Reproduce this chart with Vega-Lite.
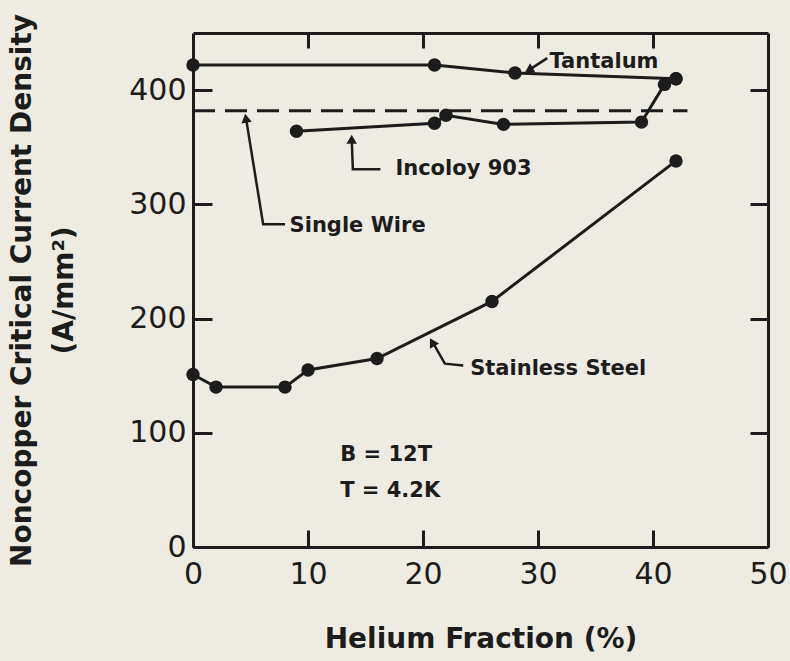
{
  "$schema": "https://vega.github.io/schema/vega-lite/v6.json",
  "width": 575,
  "height": 514,
  "autosize": {"type": "none"},
  "padding": {"left": 193, "top": 33, "right": 22, "bottom": 114},
  "background": "#eeece2",
  "config": {"view": {"stroke": null}, "font": "DejaVu Sans"},
  "datasets": {
    "series": [
      {"series": "Tantalum", "order": 1, "x": 0, "y": 422},
      {"series": "Tantalum", "order": 2, "x": 21, "y": 422},
      {"series": "Tantalum", "order": 3, "x": 28, "y": 415},
      {"series": "Tantalum", "order": 4, "x": 42, "y": 410},
      {"series": "Incoloy 903", "order": 1, "x": 9, "y": 364},
      {"series": "Incoloy 903", "order": 2, "x": 21, "y": 371},
      {"series": "Incoloy 903", "order": 3, "x": 22, "y": 378},
      {"series": "Incoloy 903", "order": 4, "x": 27, "y": 370},
      {"series": "Incoloy 903", "order": 5, "x": 39, "y": 372},
      {"series": "Incoloy 903", "order": 6, "x": 41, "y": 405},
      {"series": "Incoloy 903", "order": 7, "x": 42, "y": 410},
      {"series": "Stainless Steel", "order": 1, "x": 0, "y": 151},
      {"series": "Stainless Steel", "order": 2, "x": 2, "y": 140},
      {"series": "Stainless Steel", "order": 3, "x": 8, "y": 140},
      {"series": "Stainless Steel", "order": 4, "x": 10, "y": 155},
      {"series": "Stainless Steel", "order": 5, "x": 16, "y": 165},
      {"series": "Stainless Steel", "order": 6, "x": 26, "y": 215},
      {"series": "Stainless Steel", "order": 7, "x": 42, "y": 338}
    ],
    "singlewire": [
      {"series": "Single Wire", "x": 0, "y": 382},
      {"series": "Single Wire", "x": 43, "y": 382}
    ],
    "arrows": [
      {"id": "ta", "order": 1, "x": 30.8, "y": 428},
      {"id": "ta", "order": 2, "x": 29.2, "y": 417.5},
      {"id": "in", "order": 1, "x": 16.3, "y": 330.7},
      {"id": "in", "order": 2, "x": 13.9, "y": 330.7},
      {"id": "in", "order": 3, "x": 13.8, "y": 358},
      {"id": "sw", "order": 1, "x": 8.0, "y": 282.5},
      {"id": "sw", "order": 2, "x": 6.1, "y": 282.5},
      {"id": "sw", "order": 3, "x": 4.6, "y": 376},
      {"id": "ss", "order": 1, "x": 23.5, "y": 159},
      {"id": "ss", "order": 2, "x": 21.9, "y": 160.5},
      {"id": "ss", "order": 3, "x": 20.8, "y": 180}
    ],
    "heads": [
      {"id": "ta", "x": 29.2, "y": 417.5, "heading": 240},
      {"id": "in", "x": 13.8, "y": 357, "heading": 0},
      {"id": "sw", "x": 4.6, "y": 375.4, "heading": 351},
      {"id": "ss", "x": 20.8, "y": 179.4, "heading": 330}
    ],
    "labels": [
      {"label": "Tantalum", "x": 31.0, "y": 425},
      {"label": "Incoloy 903", "x": 17.6, "y": 330.7},
      {"label": "Single Wire", "x": 8.4, "y": 281},
      {"label": "Stainless Steel", "x": 24.1, "y": 155.5},
      {"label": "B = 12T", "x": 12.8, "y": 80.7},
      {"label": "T = 4.2K", "x": 12.8, "y": 49}
    ]
  },
  "resolve": {"axis": {"x": "independent", "y": "independent"}},
  "layer": [
    {
      "data": {"name": "series"},
      "mark": {"type": "line", "stroke": "#1c1c1c", "strokeWidth": 3},
      "encoding": {
        "x": {"field": "x", "type": "quantitative", "scale": {"domain": [0, 50], "nice": false, "zero": false},
          "axis": {"orient": "bottom", "values": [0, 10, 20, 30, 40, 50], "format": "d", "grid": false,
            "title": "Helium Fraction (%)", "titleFont": "DejaVu Sans", "titleFontSize": 28, "titleFontWeight": "bold", "titleColor": "#1c1c1c", "titlePadding": 36,
            "labelFont": "DejaVu Sans", "labelFontSize": 30, "labelColor": "#1c1c1c", "labelPadding": 29, "labelFlush": false, "labelOverlap": false,
            "tickSize": -17, "tickWidth": 3, "tickColor": "#1c1c1c", "domainColor": "#1c1c1c", "domainWidth": 3}},
        "y": {"field": "y", "type": "quantitative", "scale": {"domain": [0, 450], "nice": false, "zero": false},
          "axis": {"orient": "left", "values": [0, 100, 200, 300, 400], "format": "d", "grid": false,
            "title": ["Noncopper Critical Current Density", "(A/mm²)"], "titleFont": "DejaVu Sans", "titleFontSize": 28, "titleFontWeight": "bold", "titleColor": "#1c1c1c", "titleLineHeight": 42, "titlePadding": 50,
            "labelFont": "DejaVu Sans", "labelFontSize": 30, "labelColor": "#1c1c1c", "labelPadding": 26, "labelFlush": false, "labelOverlap": false,
            "tickSize": -19, "tickWidth": 3, "tickColor": "#1c1c1c", "domainColor": "#1c1c1c", "domainWidth": 3}},
        "detail": {"field": "series"},
        "order": {"field": "order", "type": "quantitative"}
      }
    },
    {
      "data": {"name": "series"},
      "mark": {"type": "point", "filled": true, "fill": "#1c1c1c", "opacity": 1, "size": 180, "strokeWidth": 0},
      "encoding": {
        "x": {"field": "x", "type": "quantitative", "scale": {"domain": [0, 50], "nice": false, "zero": false},
          "axis": {"orient": "top", "values": [10, 20, 30, 40], "labels": false, "title": null, "grid": false,
            "tickSize": -15, "tickWidth": 3, "tickColor": "#1c1c1c", "domainColor": "#1c1c1c", "domainWidth": 3}},
        "y": {"field": "y", "type": "quantitative", "scale": {"domain": [0, 450], "nice": false, "zero": false},
          "axis": {"orient": "right", "values": [100, 200, 300, 400], "labels": false, "title": null, "grid": false,
            "tickSize": -18, "tickWidth": 3, "tickColor": "#1c1c1c", "domainColor": "#1c1c1c", "domainWidth": 3}}
      }
    },
    {
      "data": {"name": "singlewire"},
      "mark": {"type": "line", "stroke": "#1c1c1c", "strokeWidth": 3, "strokeDash": [22, 10]},
      "encoding": {
        "x": {"field": "x", "type": "quantitative", "axis": null},
        "y": {"field": "y", "type": "quantitative", "axis": null}
      }
    },
    {
      "data": {"name": "arrows"},
      "mark": {"type": "line", "stroke": "#1c1c1c", "strokeWidth": 2.5},
      "encoding": {
        "x": {"field": "x", "type": "quantitative", "axis": null},
        "y": {"field": "y", "type": "quantitative", "axis": null},
        "detail": {"field": "id"},
        "order": {"field": "order", "type": "quantitative"}
      }
    },
    {
      "data": {"name": "heads"},
      "mark": {"type": "point", "shape": "triangle-up", "filled": true, "fill": "#1c1c1c", "opacity": 1, "size": 110, "strokeWidth": 0},
      "encoding": {
        "x": {"field": "x", "type": "quantitative", "axis": null},
        "y": {"field": "y", "type": "quantitative", "axis": null},
        "angle": {"field": "heading", "type": "quantitative", "scale": null}
      }
    },
    {
      "data": {"name": "labels"},
      "mark": {"type": "text", "align": "left", "baseline": "middle", "font": "DejaVu Sans", "fontWeight": "bold", "fontSize": 21, "fill": "#1c1c1c"},
      "encoding": {
        "x": {"field": "x", "type": "quantitative", "axis": null},
        "y": {"field": "y", "type": "quantitative", "axis": null},
        "text": {"field": "label"}
      }
    }
  ]
}
